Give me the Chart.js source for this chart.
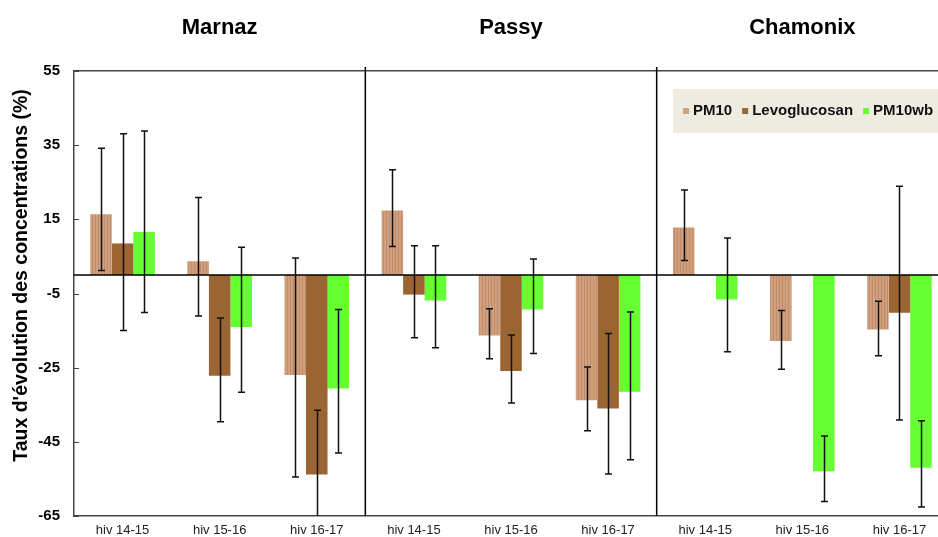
<!DOCTYPE html>
<html lang="fr">
<head>
<meta charset="utf-8">
<title>Taux d'évolution des concentrations</title>
<script src="https://cdn.jsdelivr.net/npm/chart.js@4.4.1/dist/chart.umd.min.js"></script>
<style>
  html, body { margin: 0; padding: 0; background: #fff; overflow: hidden; }
  #wrap { position: relative; width: 948px; height: 537px; }
</style>
</head>
<body>
<div id="wrap"><canvas id="evolChart"></canvas></div>
<script>
// sites (panneaux) et hivers (catégories de chaque panneau)
const sites  = ['Marnaz', 'Passy', 'Chamonix'];
const hivers = ['hiv 14-15', 'hiv 15-16', 'hiv 16-17'];
const yTicks = [-65, -45, -25, -5, 15, 35, 55];
const yTitle = "Taux d'évolution des concentrations (%)";

// valeurs : Marnaz x3, Passy x3, Chamonix x3
const pm10     = [16.4,   3.7, -27.0,  17.4, -16.3, -33.8,  12.8, -17.8, -14.7];
const pm10Hi   = [34.2,  20.9,   4.6,  28.4,  -9.1, -24.8,  22.9,  -9.6,  -7.1];
const pm10Lo   = [ 1.2, -11.1, -54.5,   7.7, -22.6, -42.0,   3.9, -25.4, -21.8];

const levo     = [ 8.5, -27.2, -53.8,  -5.3, -25.9, -36.0,  null,  null, -10.2];
const levoHi   = [38.1, -11.6, -36.5,   7.9, -16.2, -15.8,  null,  null,  23.9];
const levoLo   = [-15.0, -39.6, -71.0, -16.9, -34.5, -53.7, null,  null, -39.1];

const pm10wb   = [11.6, -14.0, -30.6,  -6.9,  -9.3, -31.5,  -6.6, -52.9, -52.0];
const pm10wbHi = [38.8,   7.5,  -9.3,   7.9,   4.3, -10.0,  10.0, -43.4, -39.3];
const pm10wbLo = [-10.1, -31.6, -48.0, -19.6, -21.2, -49.8, -20.7, -61.1, -62.6];

const FONT = "'Liberation Sans', Arial, sans-serif";
const colPM10 = '#D0A07E';
const colLevo = '#9B6433';
const colWb   = '#66FF33';

const ctx = document.getElementById('evolChart').getContext('2d');

// motif rayé vertical des barres PM10
function stripes(base, line) {
  const c = document.createElement('canvas');
  c.width = 3; c.height = 8;
  const p = c.getContext('2d');
  p.fillStyle = base; p.fillRect(0, 0, 3, 8);
  p.fillStyle = line; p.fillRect(2, 0, 1, 8);
  return ctx.createPattern(c, 'repeat');
}

const labels = sites.flatMap(() => hivers);

// barres d'erreur, séparateurs, ligne zéro, graduations, titre Y et légende
const panelsPlugin = {
  id: 'panels',
  afterDatasetsDraw(chart) {
    const { ctx, chartArea: a, scales: { x, y } } = chart;

    ctx.save();
    ctx.beginPath();
    ctx.rect(a.left, a.top, a.right - a.left, a.bottom - a.top);
    ctx.clip();

    // ligne zéro
    const y0 = y.getPixelForValue(0);
    ctx.strokeStyle = '#000';
    ctx.lineWidth = 1.5;
    ctx.beginPath();
    ctx.moveTo(a.left, y0); ctx.lineTo(a.right, y0);
    ctx.stroke();

    // barres d'erreur
    ctx.strokeStyle = '#111';
    ctx.lineWidth = 1.5;
    chart.data.datasets.forEach((ds, di) => {
      const meta = chart.getDatasetMeta(di);
      meta.data.forEach((bar, i) => {
        const hi = ds.errHi[i], lo = ds.errLo[i];
        if (hi == null || lo == null) return;
        const bx = Math.round(bar.x) + 0.5;
        const yh = y.getPixelForValue(hi), yl = y.getPixelForValue(lo);
        ctx.beginPath();
        ctx.moveTo(bx, yh); ctx.lineTo(bx, yl);
        ctx.moveTo(bx - 3.5, yh); ctx.lineTo(bx + 3.5, yh);
        ctx.moveTo(bx - 3.5, yl); ctx.lineTo(bx + 3.5, yl);
        ctx.stroke();
      });
    });
    ctx.restore();

    // séparateurs entre sites
    ctx.save();
    ctx.strokeStyle = '#000';
    ctx.lineWidth = 1.5;
    for (let k = 1; k < sites.length; k++) {
      const idx = k * hivers.length;
      const xp = (x.getPixelForValue(idx - 1) + x.getPixelForValue(idx)) / 2;
      ctx.beginPath();
      ctx.moveTo(xp, a.top - 4); ctx.lineTo(xp, a.bottom);
      ctx.stroke();
    }

    // petites graduations vers l'intérieur
    ctx.strokeStyle = '#444';
    ctx.lineWidth = 1;
    y.ticks.forEach(t => {
      const yp = Math.round(y.getPixelForValue(t.value)) + 0.5;
      ctx.beginPath();
      ctx.moveTo(a.left, yp); ctx.lineTo(a.left + 5, yp);
      ctx.stroke();
    });

    // titre de l'axe Y (centré un peu au-dessus du milieu, comme l'original)
    ctx.save();
    ctx.translate(22, (a.top + a.bottom) / 2 - 18);
    ctx.rotate(-Math.PI / 2);
    ctx.font = 'bold 19.5px ' + FONT;
    ctx.fillStyle = '#000';
    ctx.textAlign = 'center';
    ctx.textBaseline = 'middle';
    ctx.fillText(yTitle, 0, 0);
    ctx.restore();

    // légende
    const bx = a.right - 275, by = a.top + 18, bh = 44;
    ctx.fillStyle = '#EEECE1';
    ctx.fillRect(bx, by, a.right - 2 - bx, bh);
    ctx.font = 'bold 15px ' + FONT;
    ctx.textBaseline = 'middle';
    ctx.textAlign = 'left';
    let cx = bx + 10;
    const cy = by + bh / 2;
    chart.data.datasets.forEach(ds => {
      ctx.fillStyle = ds.legendColor;
      ctx.fillRect(cx, cy - 3, 6, 6);
      cx += 10;
      ctx.fillStyle = '#111';
      ctx.fillText(ds.label, cx, cy);
      cx += ctx.measureText(ds.label).width + 10;
    });
    ctx.restore();
  }
};

new Chart(ctx, {
  type: 'bar',
  data: {
    labels,
    datasets: [
      { label: 'PM10', data: pm10, errHi: pm10Hi, errLo: pm10Lo,
        backgroundColor: stripes(colPM10, '#C08E6B'), legendColor: colPM10 },
      { label: 'Levoglucosan', data: levo, errHi: levoHi, errLo: levoLo,
        backgroundColor: colLevo, legendColor: colLevo },
      { label: 'PM10wb', data: pm10wb, errHi: pm10wbHi, errLo: pm10wbLo,
        backgroundColor: colWb, legendColor: colWb }
    ]
  },
  options: {
    responsive: true,
    maintainAspectRatio: false,
    animation: false,
    layout: { padding: 0 },
    datasets: { bar: { categoryPercentage: 0.665, barPercentage: 1.0, borderWidth: 0 } },
    plugins: {
      legend: { display: false },
      tooltip: { enabled: false }
    },
    scales: {
      x: {
        position: 'bottom',
        grid: { display: false, drawTicks: false },
        border: { display: true, color: '#444', width: 1.5 },
        ticks: { font: { family: FONT, size: 13 }, color: '#222', padding: 7, maxRotation: 0 },
        afterFit: s => { s.height = 21; }
      },
      sites: {
        type: 'category',
        labels: sites,
        position: 'top',
        offset: true,
        grid: { display: false },
        border: { display: true, color: '#444', width: 1.5 },
        ticks: { font: { family: FONT, size: 22, weight: 'bold' }, color: '#000', padding: 22 },
        afterFit: s => { s.height = 71; }
      },
      y: {
        min: yTicks[0],
        max: yTicks[yTicks.length - 1],
        afterBuildTicks: s => { s.ticks = yTicks.map(v => ({ value: v })); },
        grid: { display: false },
        border: { display: true, color: '#444', width: 1.5 },
        ticks: { font: { family: FONT, size: 15, weight: 'bold' }, color: '#000', padding: 6 },
        afterFit: s => { s.width = 74; }
      }
    }
  },
  plugins: [panelsPlugin]
});
</script>
</body>
</html>
